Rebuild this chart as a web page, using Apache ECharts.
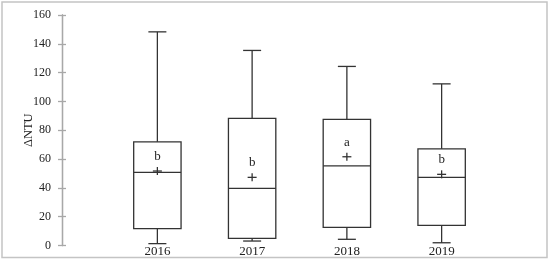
<!DOCTYPE html>
<html>
<head>
<meta charset="utf-8">
<script src="https://cdn.jsdelivr.net/npm/echarts@6/dist/echarts.min.js"></script>
<style>
  html, body { margin: 0; padding: 0; background: #fff; }
  .chart { width: 550px; height: 262px; }
</style>
</head>
<body>
<div class="chart"></div>
<script>
// 数据：年份及箱线图各统计量
var years = ['2016', '2017', '2018', '2019'];
var whiskerLow = [1.3, 3.1, 4.3, 1.9];
var q1 = [11.7, 5.0, 12.6, 14.0];
var median = [50.8, 39.7, 55.3, 47.3];
var q3 = [72.0, 88.2, 87.5, 67.1];
var whiskerHigh = [148.3, 135.4, 124.3, 112.2];
var mean = [51.7, 47.3, 61.6, 49.4];
var letters = ['b', 'b', 'a', 'b'];
var yTicks = [0, 20, 40, 60, 80, 100, 120, 140, 160];

var rows = years.map(function (y, i) {
    return [i, whiskerLow[i], q1[i], median[i], q3[i], whiskerHigh[i], mean[i]];
});

var lineStyle = { stroke: '#333', lineWidth: 1.3, fill: null };

function renderBox(params, api) {
    var idx = api.value(0);
    var bandW = api.size([1, 0])[0];
    var half = bandW * 0.25;
    var cap = bandW * 0.095;
    var pLow = api.coord([idx, api.value(1)]);
    var pQ1 = api.coord([idx, api.value(2)]);
    var pMed = api.coord([idx, api.value(3)]);
    var pQ3 = api.coord([idx, api.value(4)]);
    var pHigh = api.coord([idx, api.value(5)]);
    var pMean = api.coord([idx, api.value(6)]);
    var cx = pMed[0];
    var children = [
        { type: 'rect', shape: { x: cx - half, y: pQ3[1], width: half * 2, height: pQ1[1] - pQ3[1] }, style: lineStyle },
        { type: 'line', shape: { x1: cx - half, y1: pMed[1], x2: cx + half, y2: pMed[1] }, style: lineStyle },
        { type: 'line', shape: { x1: cx, y1: pQ3[1], x2: cx, y2: pHigh[1] }, style: lineStyle },
        { type: 'line', shape: { x1: cx, y1: pQ1[1], x2: cx, y2: pLow[1] }, style: lineStyle },
        { type: 'line', shape: { x1: cx - cap, y1: pHigh[1], x2: cx + cap, y2: pHigh[1] }, style: lineStyle },
        { type: 'line', shape: { x1: cx - cap, y1: pLow[1], x2: cx + cap, y2: pLow[1] }, style: lineStyle },
        // 均值 +
        { type: 'line', shape: { x1: cx - 4.5, y1: pMean[1], x2: cx + 4.5, y2: pMean[1] }, style: lineStyle },
        { type: 'line', shape: { x1: cx, y1: pMean[1] - 4, x2: cx, y2: pMean[1] + 4 }, style: lineStyle },
        {
            type: 'text',
            style: {
                text: letters[idx], x: cx, y: pMean[1] - 8,
                align: 'center', verticalAlign: 'bottom',
                font: '13px "Liberation Serif"', fill: '#222'
            }
        }
    ];
    return { type: 'group', children: children };
}

var myChart = echarts.init(document.querySelector('.chart'));
var yAxisBase = {
    type: 'value',
    min: yTicks[0],
    max: yTicks[yTicks.length - 1],
    interval: 20,
    offset: 48,
    splitLine: { show: false },
    axisLine: { show: true, lineStyle: { color: '#a8a8a8', width: 1.3 } },
    axisTick: { show: true, length: 4, lineStyle: { color: '#a8a8a8', width: 1.3 } }
};
var option = {
    backgroundColor: '#fff',
    animation: false,
    grid: { left: 110, right: 61, top: 15, bottom: 16.5 },
    xAxis: {
        type: 'category',
        data: years,
        axisLine: { show: false },
        axisTick: { show: false },
        axisLabel: { margin: 0, fontFamily: 'Liberation Serif', fontSize: 13, color: '#222' }
    },
    yAxis: [
        Object.assign({}, yAxisBase, {
            name: 'ΔNTU',
            nameLocation: 'middle',
            nameGap: 27,
            nameMoveOverlap: false,
            nameTextStyle: { fontFamily: 'Liberation Serif', fontSize: 12.5, color: '#222' },
            axisLabel: { margin: 11, fontFamily: 'Liberation Serif', fontSize: 12, color: '#222' }
        }),
        Object.assign({}, yAxisBase, {
            axisTick: { show: true, inside: true, length: 4, lineStyle: { color: '#a8a8a8', width: 1.3 } },
            axisLabel: { show: false },
            position: 'left'
        })
    ],
    graphic: [{
        type: 'rect',
        shape: { x: 2, y: 2, width: 545, height: 255.5 },
        style: { fill: null, stroke: '#c4c4c4', lineWidth: 1.5 },
        silent: true
    }],
    series: [{
        type: 'custom',
        renderItem: renderBox,
        encode: { x: 0, y: [1, 2, 3, 4, 5, 6] },
        data: rows
    }]
};
myChart.setOption(option);
</script>
</body>
</html>
